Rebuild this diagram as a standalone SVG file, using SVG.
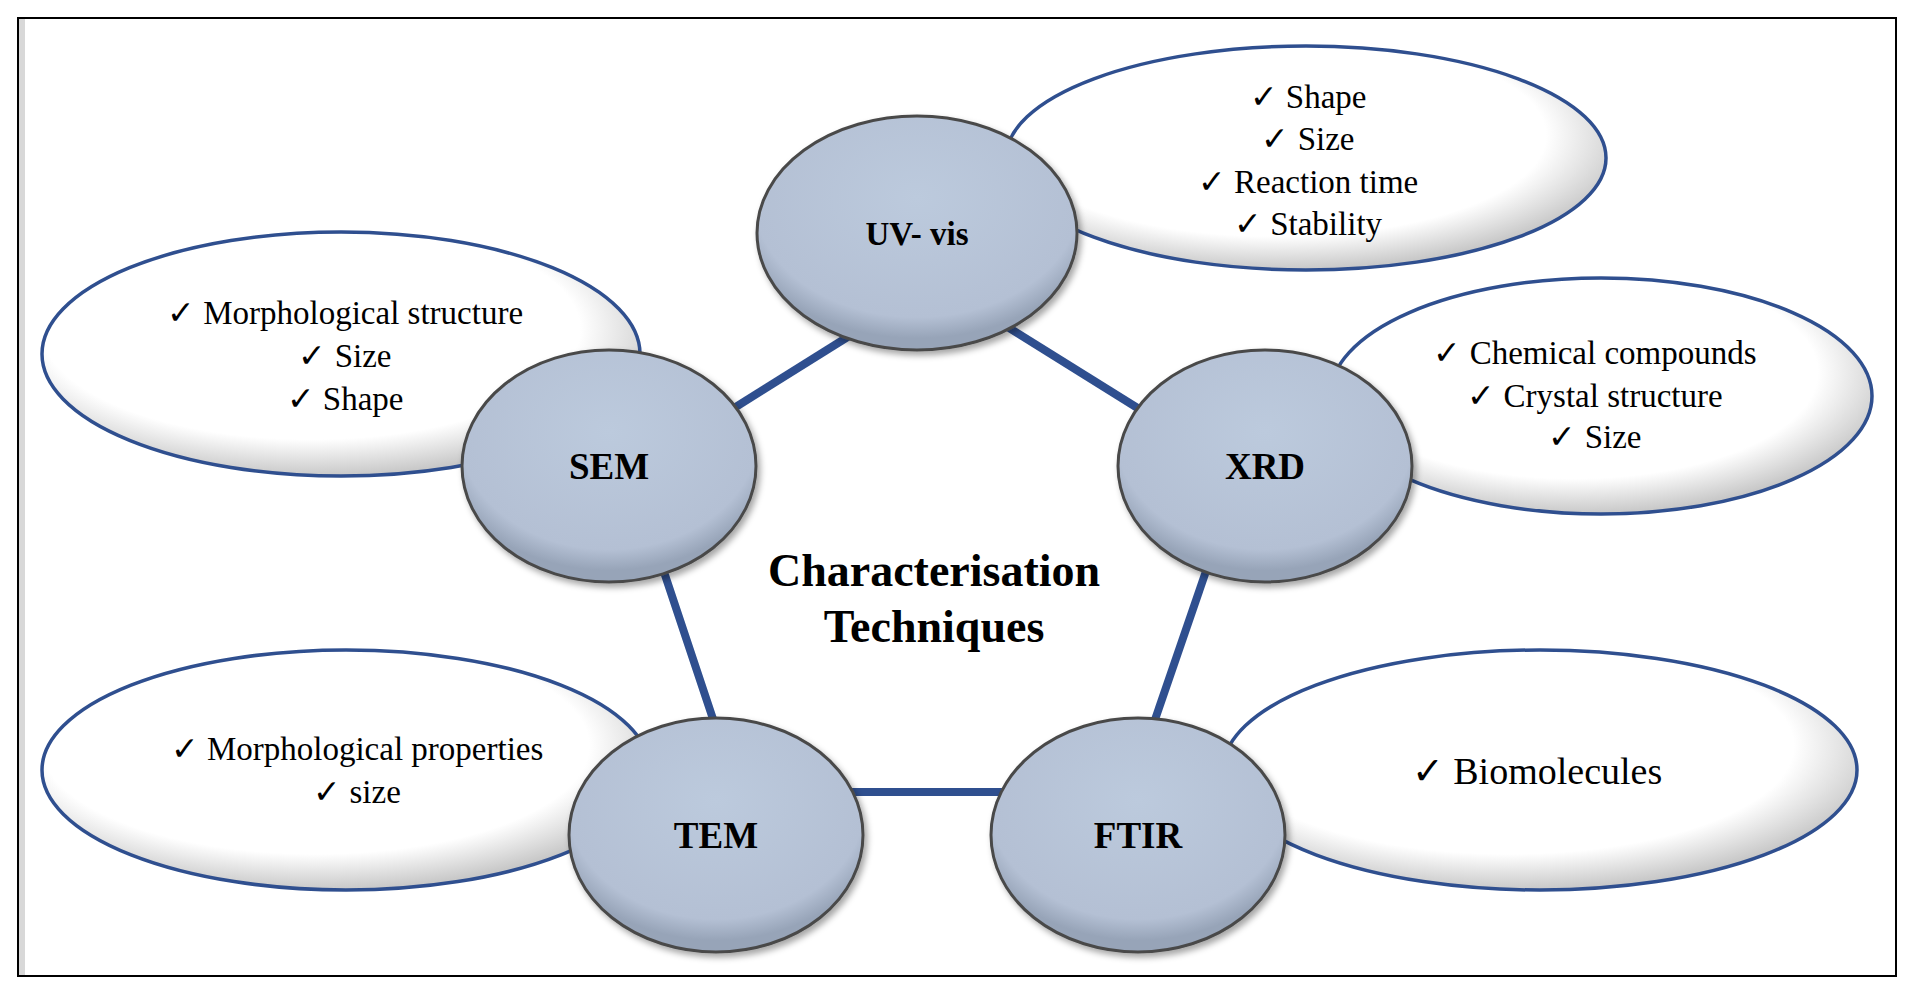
<svg xmlns="http://www.w3.org/2000/svg" width="1918" height="992" viewBox="0 0 1918 992">
<defs>
<radialGradient id="bub" cx="0.45" cy="0.4" r="0.6"><stop offset="0.75" stop-color="#ffffff"/><stop offset="1" stop-color="#c8c8c8"/></radialGradient>
<radialGradient id="nod" cx="0.5" cy="0.35" r="0.6"><stop offset="0" stop-color="#bccadd"/><stop offset="0.85" stop-color="#b4c0d4"/><stop offset="1" stop-color="#97a4b8"/></radialGradient>
<filter id="sh" x="-20%" y="-20%" width="140%" height="140%"><feDropShadow dx="3" dy="4" stdDeviation="3" flood-color="#000" flood-opacity="0.35"/></filter>
<style>
.bubble{fill:url(#bub);stroke:#2f4f8f;stroke-width:3.5}
.node{fill:url(#nod);stroke:#4a4a4a;stroke-width:3;filter:url(#sh)}
.lbl{font-family:"Liberation Serif",serif;font-weight:bold;font-size:37px;fill:#000;text-anchor:middle}
.t{font-family:"Liberation Serif",serif;font-size:33px;fill:#000;text-anchor:middle}
.title{font-family:"Liberation Serif",serif;font-weight:bold;font-size:46px;fill:#000;text-anchor:middle}
.con{stroke:#2f4f8f;stroke-width:8;fill:none}
</style>
</defs>
<rect x="0" y="0" width="1918" height="992" fill="#ffffff"/>
<rect x="18" y="18" width="1878" height="958" fill="#ffffff" stroke="#000" stroke-width="2"/>
<rect x="19" y="19" width="6" height="956" fill="#d8d8d8"/>

<g id="bubble-uv"><ellipse class="bubble" cx="1306" cy="158" rx="300" ry="112"/>
<text class="t" x="1308" y="108">✓  Shape</text><text class="t" x="1308" y="150">✓  Size</text><text class="t" x="1308" y="193">✓  Reaction time</text><text class="t" x="1308" y="235">✓  Stability</text></g>
<g id="bubble-sem"><ellipse class="bubble" cx="341" cy="354" rx="299" ry="122"/>
<text class="t" x="345" y="324">✓  Morphological structure</text><text class="t" x="345" y="367">✓  Size</text><text class="t" x="345" y="410">✓  Shape</text></g>
<g id="bubble-xrd"><ellipse class="bubble" cx="1601" cy="396" rx="271" ry="118"/>
<text class="t" x="1595" y="364">✓  Chemical compounds</text><text class="t" x="1595" y="407">✓  Crystal structure</text><text class="t" x="1595" y="448">✓  Size</text></g>
<g id="bubble-tem"><ellipse class="bubble" cx="346" cy="770" rx="304" ry="120"/>
<text class="t" x="357" y="760">✓  Morphological properties</text><text class="t" x="357" y="803">✓  size</text></g>
<g id="bubble-ftir"><ellipse class="bubble" cx="1540" cy="770" rx="317" ry="120"/>
<text class="t" x="1537" y="784" style="font-size:38px">✓  Biomolecules</text></g>

<g id="connectors">
<line class="con" x1="715" y1="420" x2="870" y2="323"/>
<line class="con" x1="990" y1="316" x2="1160" y2="422"/>
<line class="con" x1="1215" y1="545" x2="1148" y2="740"/>
<line class="con" x1="655" y1="545" x2="720" y2="740"/>
<line class="con" x1="840" y1="792" x2="1010" y2="792"/>
</g>

<g id="node-uv"><ellipse class="node" cx="917" cy="233" rx="160" ry="117"/><text class="lbl" x="917" y="245" style="font-size:33px">UV- vis</text></g>
<g id="node-sem"><ellipse class="node" cx="609" cy="466" rx="147" ry="116"/><text class="lbl" x="609" y="479">SEM</text></g>
<g id="node-xrd"><ellipse class="node" cx="1265" cy="466" rx="147" ry="116"/><text class="lbl" x="1265" y="479">XRD</text></g>
<g id="node-tem"><ellipse class="node" cx="716" cy="835" rx="147" ry="117"/><text class="lbl" x="716" y="848">TEM</text></g>
<g id="node-ftir"><ellipse class="node" cx="1138" cy="835" rx="147" ry="117"/><text class="lbl" x="1138" y="848">FTIR</text></g>

<g id="title"><text class="title" x="934" y="586">Characterisation</text><text class="title" x="934" y="642">Techniques</text></g>
</svg>
